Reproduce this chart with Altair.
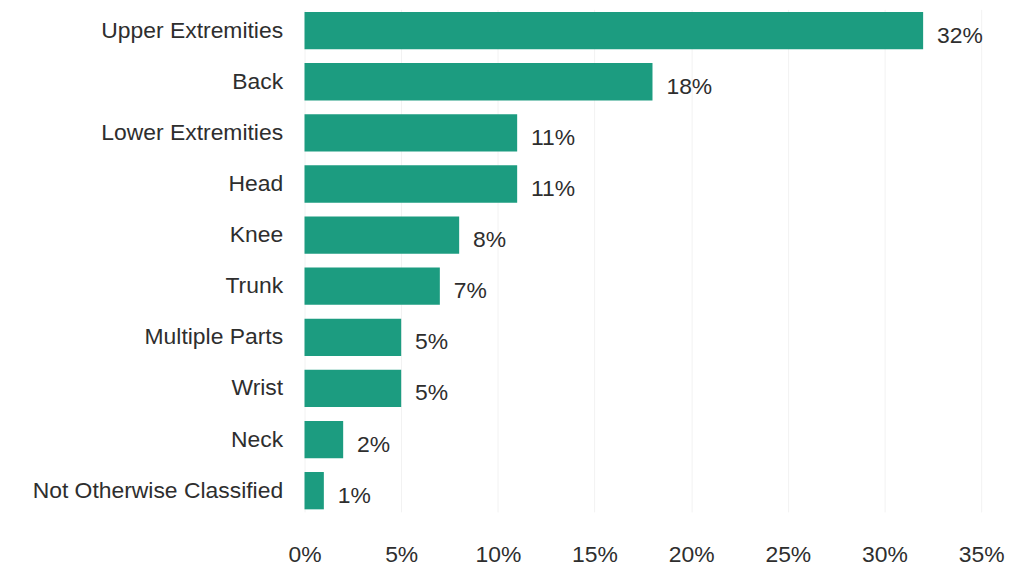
import altair as alt
import pandas as pd

categories = ["Upper Extremities", "Back", "Lower Extremities", "Head", "Knee",
              "Trunk", "Multiple Parts", "Wrist", "Neck", "Not Otherwise Classified"]
values = [32, 18, 11, 11, 8, 7, 5, 5, 2, 1]
labels = ["32%", "18%", "11%", "11%", "8%", "7%", "5%", "5%", "2%", "1%"]

df = pd.DataFrame({"part": categories, "value": values, "label": labels})

FONT = "Liberation Sans"
TXT = "#2e2e2e"

y_enc = alt.Y("part:N", sort=categories, title=None,
              scale=alt.Scale(paddingInner=0.27, paddingOuter=0.05),
              axis=alt.Axis(labelFontSize=23, labelFont=FONT, labelColor=TXT,
                            labelPadding=22, ticks=False, domain=False, labelLimit=400))
x_enc = alt.X("value:Q", title=None,
              scale=alt.Scale(domain=[0, 35], nice=False),
              axis=alt.Axis(values=[0, 5, 10, 15, 20, 25, 30, 35],
                            labelExpr="datum.value + '%'",
                            labelFontSize=23, labelFont=FONT, labelColor=TXT,
                            labelPadding=32, labelFlush=False, labelOverlap=False,
                            ticks=False, domain=False,
                            grid=True, gridColor="#f2f2f2", gridWidth=1))

bars = alt.Chart(df).mark_bar(color="#1c9c80").encode(y=y_enc, x=x_enc)
text = alt.Chart(df).mark_text(align="left", dx=14, dy=5, fontSize=23, font=FONT,
                               color=TXT).encode(
    y=alt.Y("part:N", sort=categories), x="value:Q", text="label:N")

chart = (bars + text).properties(
    width=680, height=505,
    padding={"left": 24, "top": 0, "right": 2, "bottom": 5},
).configure_view(stroke=None)
chart.save("out.html", embed_options={"renderer": "svg", "actions": False})
